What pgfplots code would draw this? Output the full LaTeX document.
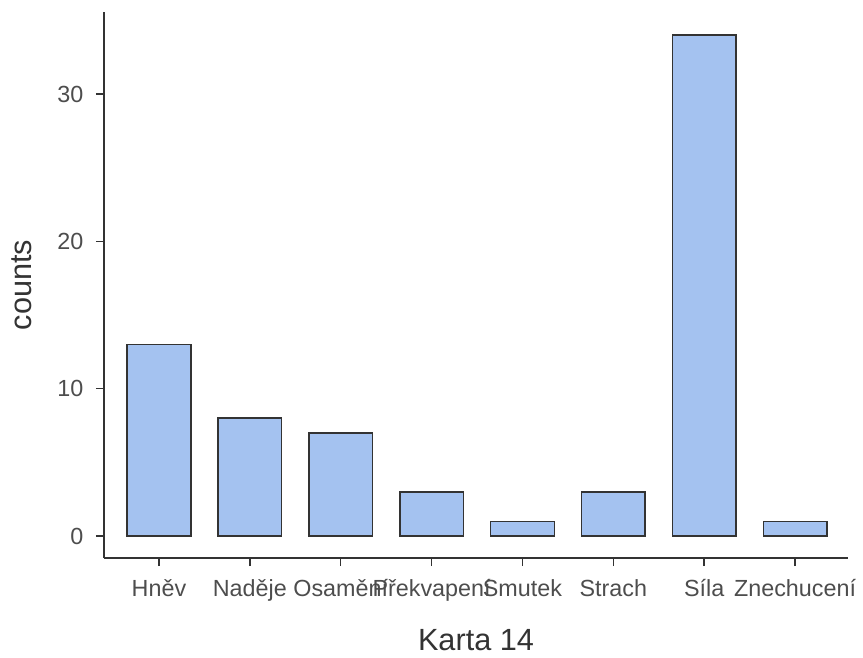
\documentclass[border=0pt]{standalone}
\usepackage{pgfplots}
\pgfplotsset{compat=1.18}
\usepackage{fontspec}
\setmainfont{Liberation Sans}
\definecolor{barfill}{HTML}{A4C2F0}
\definecolor{edge}{HTML}{333333}
\definecolor{ticktext}{HTML}{4D4D4D}
\begin{document}
\begin{tikzpicture}
\useasboundingbox (-78pt,-74.25pt) rectangle (569.25pt,418.5pt);
\begin{axis}[
  at={(0,0)}, anchor=south west,
  scale only axis, width=558pt, height=409.5pt,
  xmin=0.395, xmax=8.583, ymin=-1.49, ymax=35.57,
  axis x line*=bottom, axis y line*=left,
  axis line style={edge, line width=1.1pt, -},
  xtick={1,...,8},
  xticklabels={Hněv, Naděje, Osamění, Překvapení, Smutek, Strach, Síla, Znechucení},
  ytick={0,10,20,30},
  tick align=outside, major tick length=6pt,
  tick style={edge, line width=1.1pt},
  ticklabel style={font=\fontsize{17.5}{20}\selectfont, text=ticktext},
  /pgf/number format/assume math mode=true,
  xticklabel style={anchor=base, yshift=-23pt},
  yticklabel style={xshift=-6pt},
  xlabel={Karta 14}, ylabel={counts},
  label style={font=\fontsize{23}{27}\selectfont, text=edge},
  xlabel style={at={(axis description cs:0.5,-0.1648)}, anchor=base, yshift=-2pt},
  ylabel style={at={(axis description cs:-0.0954,0.5)}, anchor=base, yshift=1pt},
]
  \addplot[ybar, bar width=0.7, fill=barfill, draw=edge, line width=1.1pt]
    coordinates {(1,13) (2,8) (3,7) (4,3) (5,1) (6,3) (7,34) (8,1)};
\end{axis}
\end{tikzpicture}
\end{document}
